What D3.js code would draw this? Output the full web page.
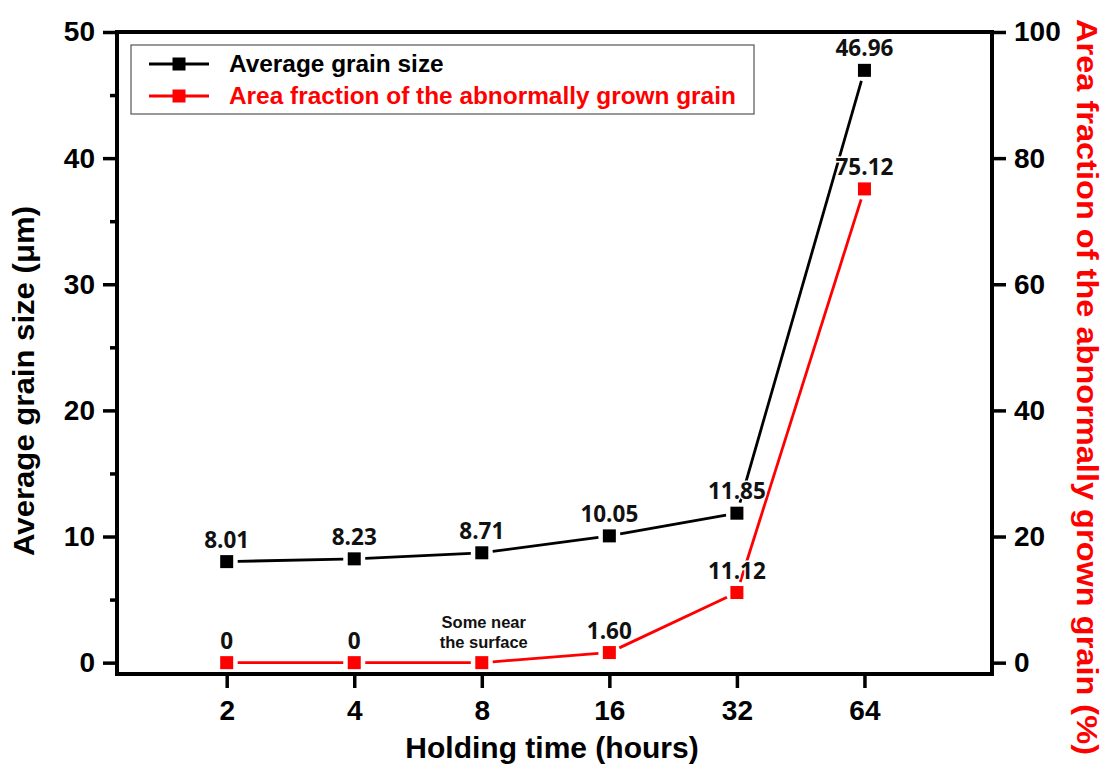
<!DOCTYPE html>
<html>
<head>
<meta charset="utf-8">
<script src="https://cdn.jsdelivr.net/npm/d3@7"></script>
<style>
  html, body { margin: 0; padding: 0; background: #fff; }
  svg { display: block; }
</style>
</head>
<body>
<div id="svg-container"></div>
<script>
// Data
const hours = ['2', '4', '8', '16', '32', '64']
const grainSize = [8.01, 8.23, 8.71, 10.05, 11.85, 46.96]
const grainLabels = ['8.01', '8.23', '8.71', '10.05', '11.85', '46.96']
const areaFraction = [0, 0, 0, 1.6, 11.12, 75.12]
const areaLabels = ['0', '0', null, '1.60', '11.12', '75.12']
const noteText = ['Some near', 'the surface'] // drawn above the 8 h point
const leftTicks = [0, 10, 20, 30, 40, 50]
const leftMinor = [5, 15, 25, 35, 45]
const rightTicks = [0, 20, 40, 60, 80, 100]

const width = 1103
const height = 774
const plot = { left: 117, right: 992, top: 32, bottom: 674 }

const tickFont = "'Liberation Sans', Arial, sans-serif"
const labelFont = "'Open Sans', sans-serif"
const red = '#ff0000'

const svg = d3
  .select('#svg-container')
  .append('svg')
  .attr('width', width)
  .attr('height', height)
  .attr('viewBox', `0 0 ${width} ${height}`)

// Scales (x uses point index, evenly spaced categories)
const xScale = d3.scaleLinear().domain([-0.86, 6]).range([plot.left, plot.right])
const yLeft = d3.scaleLinear().domain([-0.9, 50]).range([plot.bottom, plot.top])
const yRight = d3.scaleLinear().domain([-1.8, 100]).range([plot.bottom, plot.top])

// Axes
const styleAxis = (g, size) => {
  g.select('.domain').remove()
  g.selectAll('.tick line').attr('stroke', '#000').attr('stroke-width', 3.5)
  g.selectAll('.tick text')
    .attr('fill', '#000')
    .style('font-family', tickFont)
    .style('font-weight', 'bold')
    .style('font-size', `${size}px`)
}

svg
  .append('g')
  .attr('transform', `translate(${plot.left},0)`)
  .call(d3.axisLeft(yLeft).tickValues(leftTicks).tickSize(14).tickPadding(8).tickFormat(d3.format('d')))
  .call(g => styleAxis(g, 28))

svg
  .append('g')
  .attr('transform', `translate(${plot.left},0)`)
  .call(d3.axisLeft(yLeft).tickValues(leftMinor).tickSize(7).tickFormat(''))
  .call(g => styleAxis(g, 28))

svg
  .append('g')
  .attr('transform', `translate(${plot.right},0)`)
  .call(d3.axisRight(yRight).tickValues(rightTicks).tickSize(14).tickPadding(8).tickFormat(d3.format('d')))
  .call(g => styleAxis(g, 28))

svg
  .append('g')
  .attr('transform', `translate(0,${plot.bottom})`)
  .call(
    d3
      .axisBottom(xScale)
      .tickValues(d3.range(hours.length))
      .tickSize(14)
      .tickPadding(12)
      .tickFormat(i => hours[i]),
  )
  .call(g => styleAxis(g, 28))

// frame
svg
  .append('rect')
  .attr('x', plot.left)
  .attr('y', plot.top)
  .attr('width', plot.right - plot.left)
  .attr('height', plot.bottom - plot.top)
  .attr('fill', 'none')
  .attr('stroke', '#000')
  .attr('stroke-width', 4)

// Axis titles
svg
  .append('text')
  .attr('transform', 'translate(34,381) rotate(-90)')
  .attr('text-anchor', 'middle')
  .attr('textLength', 350)
  .attr('lengthAdjust', 'spacingAndGlyphs')
  .style('font-family', tickFont)
  .style('font-weight', 'bold')
  .style('font-size', '29px')
  .text('Average grain size (\u03bcm)')

svg
  .append('text')
  .attr('transform', 'translate(1077,387) rotate(90)')
  .attr('text-anchor', 'middle')
  .attr('textLength', 736)
  .attr('lengthAdjust', 'spacingAndGlyphs')
  .attr('fill', red)
  .style('font-family', tickFont)
  .style('font-weight', 'bold')
  .style('font-size', '29px')
  .text('Area fraction of the abnormally grown grain (%)')

svg
  .append('text')
  .attr('x', 552)
  .attr('y', 758)
  .attr('text-anchor', 'middle')
  .style('font-family', tickFont)
  .style('font-weight', 'bold')
  .style('font-size', '30px')
  .text('Holding time (hours)')

// Series
const marker = 13
const gap = 11

const drawSeries = (values, yScale, color) => {
  const pts = values.map((v, i) => [xScale(i), yScale(v)])
  const segs = d3.pairs(pts).map(([a, b]) => {
    const dx = b[0] - a[0]
    const dy = b[1] - a[1]
    const len = Math.hypot(dx, dy)
    const ux = dx / len
    const uy = dy / len
    return [
      [a[0] + ux * gap, a[1] + uy * gap],
      [b[0] - ux * gap, b[1] - uy * gap],
    ]
  })
  const g = svg.append('g')
  g.selectAll('path.seg')
    .data(segs)
    .join('path')
    .attr('class', 'seg')
    .attr('d', d3.line())
    .attr('fill', 'none')
    .attr('stroke', color)
    .attr('stroke-width', 2.8)
  g.selectAll('rect')
    .data(pts)
    .join('rect')
    .attr('x', d => d[0] - marker / 2)
    .attr('y', d => d[1] - marker / 2)
    .attr('width', marker)
    .attr('height', marker)
    .attr('fill', color)
  return pts
}

const blackPts = drawSeries(grainSize, yLeft, '#000')
const redPts = drawSeries(areaFraction, yRight, red)

// Value labels (white halo lets lines disappear behind glyphs)
const drawLabels = (pts, labels) => {
  svg
    .append('g')
    .selectAll('text')
    .data(pts.map((p, i) => ({ p, t: labels[i] })).filter(d => d.t))
    .join('text')
    .attr('x', d => d.p[0])
    .attr('y', d => d.p[1] - 14)
    .attr('text-anchor', 'middle')
    .attr('fill', '#111')
    .attr('stroke', '#fff')
    .attr('stroke-width', 3)
    .attr('paint-order', 'stroke')
    .style('font-family', labelFont)
    .style('font-weight', 'bold')
    .style('font-size', '22.5px')
    .text(d => d.t)
}
drawLabels(blackPts, grainLabels)
drawLabels(redPts, areaLabels)

svg
  .append('g')
  .selectAll('text')
  .data(noteText)
  .join('text')
  .attr('x', redPts[2][0] + 2)
  .attr('y', (d, i) => redPts[2][1] - 35 + i * 20)
  .attr('text-anchor', 'middle')
  .attr('fill', '#111')
  .style('font-family', tickFont)
  .style('font-weight', 'bold')
  .style('font-size', '16.5px')
  .text(d => d)

// Legend
const legend = svg.append('g')
legend
  .append('rect')
  .attr('x', 131)
  .attr('y', 45)
  .attr('width', 623)
  .attr('height', 69)
  .attr('fill', '#fff')
  .attr('stroke', '#555')
  .attr('stroke-width', 1.2)

const legendItems = [
  { name: 'Average grain size', color: '#000' },
  { name: 'Area fraction of the abnormally grown grain', color: red },
]
const rows = legend
  .selectAll('g.row')
  .data(legendItems)
  .join('g')
  .attr('class', 'row')
  .attr('transform', (d, i) => `translate(0,${64 + i * 32})`)
rows
  .append('line')
  .attr('x1', 149)
  .attr('x2', 209)
  .attr('stroke', d => d.color)
  .attr('stroke-width', 2.8)
rows
  .append('rect')
  .attr('x', 179 - marker / 2)
  .attr('y', -marker / 2)
  .attr('width', marker)
  .attr('height', marker)
  .attr('fill', d => d.color)
rows
  .append('text')
  .attr('x', 229)
  .attr('y', 8)
  .attr('fill', d => d.color)
  .style('font-family', tickFont)
  .style('font-weight', 'bold')
  .style('font-size', '24.4px')
  .text(d => d.name)
</script>
</body>
</html>
